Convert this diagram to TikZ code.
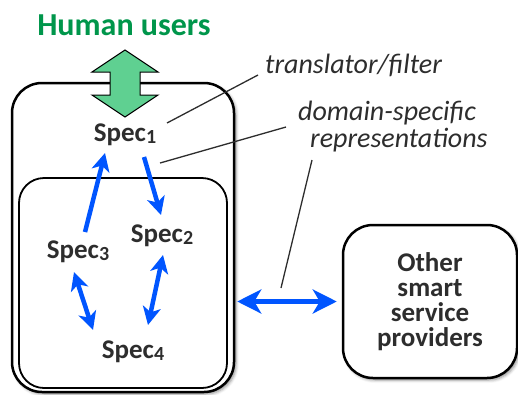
\documentclass[tikz,border=0pt]{standalone}
\usepackage{fontspec}
\setmainfont{Carlito}
\usetikzlibrary{arrows.meta,shadows.blur}
\definecolor{specblue}{RGB}{0,85,255}
\definecolor{usergreen}{RGB}{0,150,75}
\definecolor{arrowgreen}{RGB}{95,208,145}
\definecolor{inkgray}{RGB}{45,45,45}
\newcommand{\spec}[1]{Spec\raisebox{-2pt}{\fontsize{20}{20}\selectfont #1}}

\begin{document}
\begin{tikzpicture}[x=1pt,y=-1pt,
  >={Stealth[length=18pt,width=18pt,inset=5pt]},
  box/.style={draw,fill=white,line width=2.5pt,rounded corners=30pt,inner sep=0pt},
  spec/.style={anchor=base,text=inkgray,font=\fontsize{27}{27}\selectfont\bfseries},
  note/.style={anchor=base west,inner sep=0pt,text=inkgray,font=\fontsize{28}{28}\selectfont\itshape},
  link/.style={line width=4.5pt,specblue},
  pointer/.style={line width=1.3pt,inkgray}]
\useasboundingbox (0,0) rectangle (518,394);
\node[box,blur shadow={shadow xshift=2pt,shadow yshift=-2pt,shadow blur radius=3pt,shadow opacity=45},
  minimum width=222pt,minimum height=309pt] (agent) at (123,237.5) {};
\node[draw,fill=white,line width=1.8pt,rounded corners=25pt,minimum width=208pt,minimum height=210pt] (core) at (123,283) {};
\node[box,blur shadow={shadow xshift=2pt,shadow yshift=-2pt,shadow blur radius=3pt,shadow opacity=45},
  minimum width=174pt,minimum height=153pt,align=center,text=inkgray,
  font=\fontsize{27}{25}\selectfont\bfseries] (others) at (430,301.5) {Other\\smart\\service\\providers};
\node[anchor=base,text=usergreen,font=\fontsize{32}{32}\selectfont\bfseries] (users) at (124,35) {Human users};
\draw[line width=1pt,fill=arrowgreen] (125,50) -- (158,72) -- (140,72) -- (140,95) -- (158,95) -- (125,117)
  -- (92,95) -- (110,95) -- (110,72) -- (92,72) -- cycle;
\node[spec] (s1) at (125,141) {\spec{1}};
\node[spec] (s2) at (162,242) {\spec{2}};
\node[spec] (s3) at (78,258) {\spec{3}};
\node[spec] (s4) at (133,358) {\spec{4}};
\draw[link,->] ([shift={(7,-26)}]s3.base) -- ([shift={(-20,12)}]s1.base);
\draw[link,->] ([shift={(19,16)}]s1.base) -- ([shift={(-1,-27)}]s2.base);
\draw[link,<->] ([shift={(1,13)}]s2.base) -- ([shift={(15,-33)}]s4.base);
\draw[link,<->] ([shift={(-4,14)}]s3.base) -- ([shift={(-40,-28)}]s4.base);
\draw[link,<->,>={Stealth[length=24pt,width=24pt,inset=7pt]}] ([xshift=2pt]others.west -| agent.east) -- ([xshift=-5pt]others.west);
\node[note] (tf) at (265,73) {translator/filter};
\node[note] (dom) at (298,120) {domain-specific};
\node[note] (rep) at (310,147) {representations};
\coordinate (tfend) at (167,123);
\coordinate (domend) at (160,163);
\coordinate (repend) at (281,288);
\draw[pointer] (tfend) -- ([shift={(-7,2)}]tf.base west);
\draw[pointer] (domend) -- ([shift={(-12,7)}]dom.base west);
\draw[pointer] ([shift={(2,13)}]rep.base west) -- (repend);
\end{tikzpicture}
\end{document}
